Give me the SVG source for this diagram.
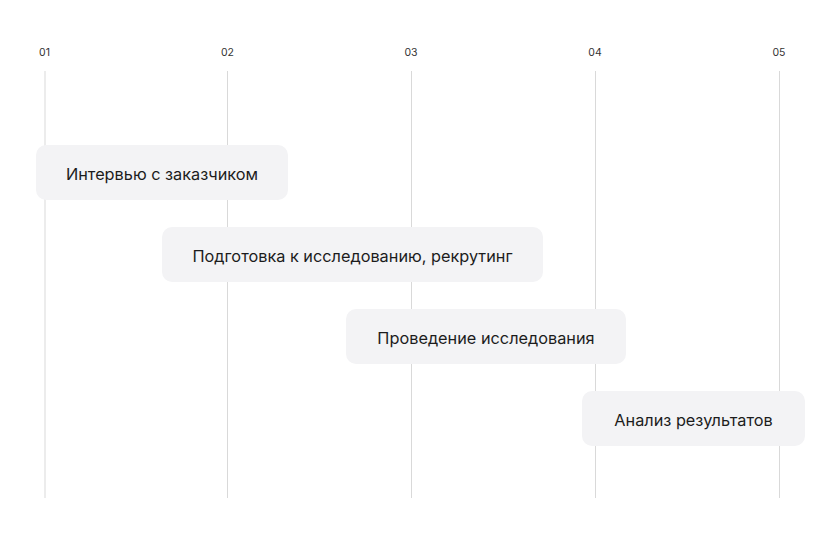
<svg xmlns="http://www.w3.org/2000/svg" width="840" height="535" viewBox="0 0 840 535">
<style>
.grid{stroke:#d9d9d9;stroke-width:1;}
.num{font-family:Inter,"Noto Sans",sans-serif;font-size:10.5px;fill:#333;text-anchor:middle;}
.box{fill:#f3f3f5;}
.lbl{font-family:Inter,"Noto Sans",sans-serif;font-size:16.3px;fill:#1c1c1c;text-anchor:middle;}
</style>
<rect width="840" height="535" fill="#ffffff"/>
<g id="axis">
<line class="grid" x1="45" y1="71" x2="45" y2="498"/>
<line class="grid" x1="227.5" y1="71" x2="227.5" y2="498"/>
<line class="grid" x1="411.5" y1="71" x2="411.5" y2="498"/>
<line class="grid" x1="595.5" y1="71" x2="595.5" y2="498"/>
<line class="grid" x1="779.5" y1="71" x2="779.5" y2="498"/>
<text class="num" x="44.5" y="56">01</text>
<text class="num" x="227.5" y="56">02</text>
<text class="num" x="411" y="56">03</text>
<text class="num" x="595" y="56">04</text>
<text class="num" x="779" y="56">05</text>
</g>
<g id="task1">
<rect class="box" x="36" y="145" width="252" height="55" rx="10"/>
<text class="lbl" x="162" y="180">Интервью с заказчиком</text>
</g>
<g id="task2">
<rect class="box" x="162" y="227" width="381" height="55" rx="10"/>
<text class="lbl" x="352.5" y="262">Подготовка к исследованию, рекрутинг</text>
</g>
<g id="task3">
<rect class="box" x="346" y="309" width="280" height="55" rx="10"/>
<text class="lbl" x="486" y="344">Проведение исследования</text>
</g>
<g id="task4">
<rect class="box" x="582" y="391" width="223" height="55" rx="10"/>
<text class="lbl" x="693.5" y="426">Анализ результатов</text>
</g>
</svg>
